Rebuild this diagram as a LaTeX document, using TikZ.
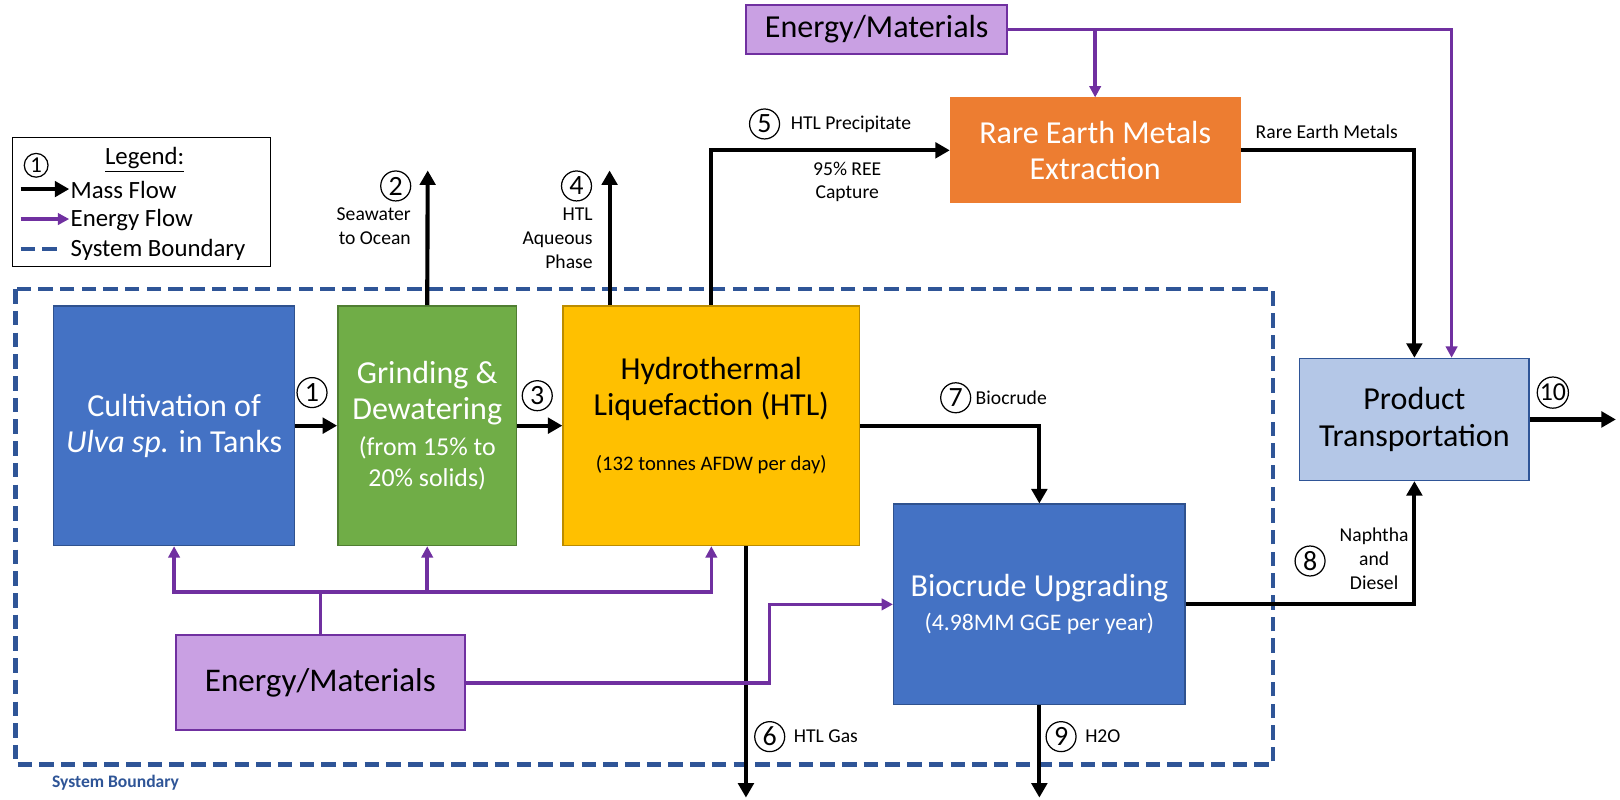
\documentclass[tikz,border=0pt]{standalone}
\usepackage{fontspec}
\setmainfont{Carlito}
\usetikzlibrary{arrows.meta,calc}
\definecolor{cultblue}{HTML}{4472C4}
\definecolor{cultborder}{HTML}{2F528F}
\definecolor{grgreen}{HTML}{70AD47}
\definecolor{grborder}{HTML}{507E32}
\definecolor{htlyellow}{HTML}{FFC000}
\definecolor{htlborder}{HTML}{BC8C00}
\definecolor{reeorange}{HTML}{ED7D31}
\definecolor{emfill}{HTML}{C9A0E3}
\definecolor{epurple}{HTML}{7030A0}
\definecolor{ptfill}{HTML}{B4C7E7}
\definecolor{bndblue}{HTML}{2F5597}
\newcommand\BigTxtFont{\fontsize{15.5}{17.5}\selectfont}
\tikzset{
  box/.style={draw, line width=0.7pt, align=center, inner sep=2pt},
  bigtxt/.style={font=\BigTxtFont},
  mass/.style={line width=2pt, line join=miter, -{Triangle[length=7pt,width=7.5pt]}},
  energy/.style={draw=epurple, line width=1.7pt, line join=miter, -{Triangle[length=5.5pt,width=5.5pt]}},
  energyline/.style={draw=epurple, line width=1.7pt, line join=miter},
  num/.style={circle, draw, line width=0.6pt, inner sep=0pt, minimum size=14.5pt, font=\fontsize{13.5}{13.5}\selectfont},
  lbl/.style={font=\fontsize{9.5}{11.5}\selectfont, align=center, inner sep=0pt},
  bnd/.style={draw=bndblue, line width=2pt, dash pattern=on 7pt off 3.5pt},
}
\begin{document}
\begin{tikzpicture}[x=0.5pt,y=-0.5pt]
\fill[white] (0,0) rectangle (1568,774);
\useasboundingbox (0,0) rectangle (1568,774);

% system boundary
\draw[bnd] (15,280) rectangle (1232,740);
\node[anchor=west, font=\fontsize{8.5}{10}\selectfont\bfseries, text=bndblue, inner sep=0pt] (sbtxt) at (50,758) {System Boundary};

% legend
\node[draw, line width=0.6pt, fill=white, minimum width=125pt, minimum height=62.5pt, inner sep=0pt] (legend) at (137,195.5) {};
\node[num, minimum size=11.5pt, font=\fontsize{11}{11}\selectfont] (lgnum) at (35,160) {1};
\node[font=\fontsize{12}{12}\selectfont, inner sep=0pt] (lgtitle) at (140,155) {\underline{Legend:}};
\coordinate (lm1) at (20,183); \coordinate (lm2) at (67,183);
\coordinate (le1) at (20,212); \coordinate (le2) at (67,212);
\coordinate (lb1) at (20,241); \coordinate (lb2) at (55,241);
\draw[mass] (lm1) -- (lm2);
\draw[energy] (le1) -- (le2);
\draw[bnd] (lb1) -- (lb2);
\node[anchor=west, font=\fontsize{12}{12}\selectfont, inner sep=0pt] (lgmass) at (68,184) {Mass Flow};
\node[anchor=west, font=\fontsize{12}{12}\selectfont, inner sep=0pt] (lgen) at (68,213) {Energy Flow};
\node[anchor=west, font=\fontsize{12}{12}\selectfont, inner sep=0pt] (lgbnd) at (68,242) {System Boundary};

% boxes
\node[box, fill=cultblue, draw=cultborder, text=white, bigtxt, minimum width=116.5pt, minimum height=116pt] (cult) at (168.5,412)
  {Cultivation of\\\textit{Ulva sp.} in Tanks};
\node[box, fill=grgreen, draw=grborder, text=white, bigtxt, minimum width=86.5pt, minimum height=116pt] (grind) at (413.5,412)
  {Grinding \&\\Dewatering\\{\fontsize{12.5}{15}\selectfont (from 15\% to}\\[-2.5pt]{\fontsize{12.5}{15}\selectfont 20\% solids)}};
\node[box, fill=htlyellow, draw=htlborder, bigtxt, minimum width=143.5pt, minimum height=116pt] (htl) at (688.5,412)
  {Hydrothermal\\Liquefaction (HTL)\\[9pt]{\fontsize{10}{12}\selectfont (132 tonnes AFDW per day)}\\[-6pt]};
\node[box, fill=reeorange, draw=reeorange, text=white, bigtxt, minimum width=140pt, minimum height=50.5pt] (ree) at (1060,145.5)
  {Rare Earth Metals\\Extraction};
\node[box, fill=emfill, draw=epurple, line width=1pt, bigtxt, minimum width=126.5pt, minimum height=23.5pt] (emtop) at (848.5,28.5)
  {Energy/Materials};
\node[box, fill=ptfill, draw=bndblue, bigtxt, minimum width=111pt, minimum height=59pt] (pt) at (1369,406)
  {Product\\Transportation};
\node[box, fill=cultblue, draw=cultborder, text=white, bigtxt, minimum width=141pt, minimum height=97pt] (bu) at (1006,585)
  {Biocrude Upgrading\\[-1pt]{\fontsize{11.5}{14}\selectfont (4.98MM GGE per year)}};
\node[box, fill=emfill, draw=epurple, line width=1pt, font=\fontsize{16}{18}\selectfont, minimum width=140pt, minimum height=46pt] (embot) at (310,661)
  {Energy/Materials};

% coordinates for free ends
\coordinate (c2) at (414,165);
\coordinate (c4) at (590,165);
\coordinate (c6) at (722,772);
\coordinate (c9) at (1006,772);
\coordinate (c10) at (1564,406);
\coordinate (cp) at (1405,0);
\coordinate (cb) at (745,0);
\coordinate (j) at (310,573);

% mass flows
\draw[mass] (cult.east) -- (grind.west);
\draw[mass] (grind.east) -- (htl.west);
\draw[mass] (grind.north) -- (c2);
\draw[mass] (htl.north -| c4) -- (c4);
\draw[mass] (htl.north) |- (ree.west);
\draw[mass] (htl.east) -| (bu.north);
\draw[mass] (htl.south -| c6) -- (c6);
\draw[mass] (bu.south) -- (c9);
\draw[mass] (bu.east) -| (pt.south);
\draw[mass] (ree.east) -| (pt.north);
\draw[mass] (pt.east) -- (c10);

% energy flows
\draw[energyline] (embot.north) -- (j);
\draw[energy] (j) -| (cult.south);
\draw[energy] (j) -| (htl.south);
\draw[energy] (grind.south |- j) -- (grind.south);
\draw[energy] (embot.east) -| (cb |- bu.west) -- (bu.west);
\draw[energy] (emtop.east) -| (pt.north -| cp);
\draw[energy] (emtop.east -| ree.north) -- (ree.north);

% circled numbers
\node[num] (n1) at (302,380) {1};
\node[num] (n2) at (383,180) {2};
\node[num] (n3) at (520,383) {3};
\node[num] (n4) at (558,180) {4};
\node[num] (n5) at (740,120) {5};
\node[num] (n6) at (745,713) {6};
\node[num] (n7) at (925,385) {7};
\node[num] (n8) at (1268,543) {8};
\node[num] (n9) at (1027,713) {9};
\node[num, font=\fontsize{12.5}{12.5}\selectfont] (n10) at (1503,380) {10};

% labels
\node[lbl, anchor=north east, align=right] (l2) at (398,201) {Seawater\\to Ocean};
\node[lbl, anchor=north east, align=right] (l4) at (574,201) {HTL\\Aqueous\\Phase};
\node[lbl, anchor=west] (l5) at (765,120) {HTL Precipitate};
\node[lbl] (l5b) at (820,176) {95\% REE\\Capture};
\node[lbl, anchor=west] (lree) at (1215,128) {Rare Earth Metals};
\node[lbl, anchor=west] (l7) at (944,385) {Biocrude};
\node[lbl] (l8) at (1330,541) {Naphtha\\and\\Diesel};
\node[lbl, anchor=west] (l6) at (768,713) {HTL Gas};
\node[lbl, anchor=west] (l9) at (1050,713) {H2O};
\end{tikzpicture}
\end{document}
